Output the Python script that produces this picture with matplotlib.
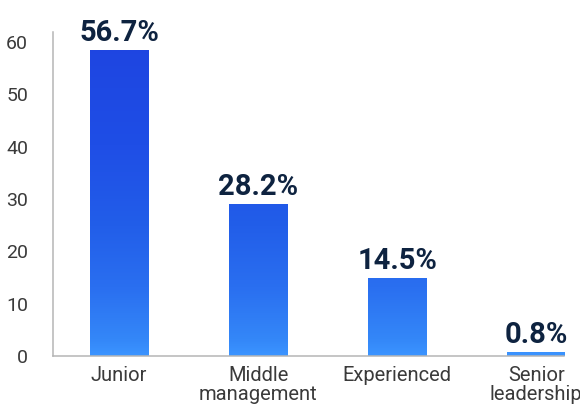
import matplotlib
matplotlib.use("Agg")
import matplotlib.pyplot as plt
from matplotlib.colors import LinearSegmentedColormap
import numpy as np

categories = ["Junior", "Middle\nmanagement", "Experienced", "Senior\nleadership"]
shares = [56.7, 28.2, 14.5, 0.8]
value_labels = ["56.7%", "28.2%", "14.5%", "0.8%"]
y_ticks = [0, 10, 20, 30, 40, 50, 60]

W, H = 580, 408
fig = plt.figure(figsize=(W / 100, H / 100), dpi=100)

rect = [53 / W, (H - 356) / H, (564 - 53) / W, (356 - 32) / H]

# tick labels sit on their own axes (the reference ticks are a touch tighter than the bars)
ax_t = fig.add_axes(rect, frameon=False)
ax_t.set_ylim(0, 61.9)
ax_t.set_yticks(y_ticks)
ax_t.set_xticks([])
ax_t.tick_params(axis="y", length=0, pad=18, labelsize=14, labelcolor="#3a3a3a")
for lab in ax_t.get_yticklabels():
    lab.set_fontfamily(["Roboto", "DejaVu Sans"])

ax = fig.add_axes(rect)
ax.patch.set_alpha(0)
x = np.arange(len(categories))
ax.set_xlim(-0.475, 3.2)
ax.set_ylim(0, 60)

bars = ax.bar(x, shares, width=0.42, color="none", edgecolor="none")

# vertical gradient shared across the plot, clipped by each bar
stops = [(0.0, "#3b94ff"), (0.05, "#3487f8"), (0.21, "#2a6ff0"),
         (0.40, "#225ee9"), (0.65, "#1f4ee6"), (1.0, "#1e44e0")]
cmap = LinearSegmentedColormap.from_list("blue_grad", stops)
grad = np.linspace(0, 1, 256).reshape(-1, 1)
for b in bars:
    im = ax.imshow(grad, cmap=cmap, origin="lower", aspect="auto",
                   extent=(-0.475, 3.2, 0, 60), zorder=2)
    im.set_clip_path(b)
ax.set_xlim(-0.475, 3.2)
ax.set_ylim(0, 60)

for xi, v, txt in zip(x, shares, value_labels):
    ax.annotate(txt, (xi, v), xytext=(0, 6.5), textcoords="offset points",
                ha="center", va="baseline", fontsize=21, fontweight="bold",
                color="#0e2340", family=["Roboto", "DejaVu Sans"])

ax.set_xticks(x)
ax.set_xticklabels(categories, linespacing=1.05)
ax.tick_params(axis="x", length=0, pad=7, labelsize=14.5, labelcolor="#3a3a3a")
for lab in ax.get_xticklabels():
    lab.set_fontfamily(["Roboto", "DejaVu Sans"])
ax.set_yticks([])

for side in ["top", "right"]:
    ax.spines[side].set_visible(False)
for side in ["left", "bottom"]:
    ax.spines[side].set_color("#b5b5b5")
    ax.spines[side].set_linewidth(1.1)

fig.savefig("out.png", dpi=100)
